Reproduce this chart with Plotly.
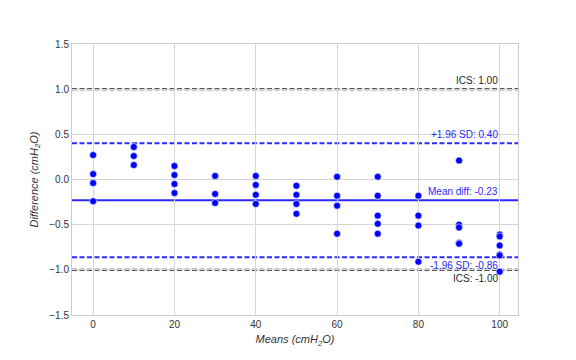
import plotly.graph_objects as go

means = [0, 0, 0, 0,
         10, 10, 10,
         20, 20, 20, 20,
         30, 30, 30,
         40, 40, 40, 40,
         50, 50, 50, 50,
         60, 60, 60, 60,
         70, 70, 70, 70, 70,
         80, 80, 80, 80,
         90, 90, 90, 90, 90,
         100, 100, 100, 100, 100, 100]
diffs = [0.27, 0.06, -0.04, -0.24,
         0.36, 0.26, 0.16,
         0.15, 0.05, -0.05, -0.15,
         0.04, -0.16, -0.26,
         0.04, -0.06, -0.17, -0.27,
         -0.07, -0.17, -0.27, -0.38,
         0.03, -0.18, -0.29, -0.60,
         0.03, -0.18, -0.40, -0.49, -0.60,
         -0.18, -0.40, -0.51, -0.91,
         0.21, -0.50, -0.53, -0.70, -0.71,
         -0.61, -0.63, -0.73, -0.83, -0.84, -1.02]

mean_diff = -0.23
upper_loa = 0.40
lower_loa = -0.86
ics = 1.00

xticks = [0, 20, 40, 60, 80, 100]
yticks = [1.5, 1.0, 0.5, 0.0, -0.5, -1.0, -1.5]

FONT = "Liberation Sans, Arial, sans-serif"

fig = go.Figure()
xr = [-5.2, 104.5]
lines = [
    (ics, "#1f1f1f", "5px,2.5px", "ICS: %.2f" % ics, "bottom", "#262626"),
    (upper_loa, "#2b2bff", "5px,2.5px", "+1.96 SD: %.2f" % upper_loa, "bottom", "#2a2aff"),
    (mean_diff, "#2b2bff", "solid", "Mean diff: %.2f" % mean_diff, "bottom", "#2a2aff"),
    (lower_loa, "#2b2bff", "5px,2.5px", "-1.96 SD: %.2f" % lower_loa, "top", "#2a2aff"),
    (-ics, "#1f1f1f", "5px,2.5px", "ICS: %.2f" % -ics, "top", "#262626"),
]
for y, col, dash, label, ya, tcol in lines:
    fig.add_shape(type="line", xref="x", yref="y", x0=xr[0], x1=xr[1], y0=y, y1=y,
                  line=dict(color=col, width=2, dash=dash), layer="below")
    fig.add_annotation(x=100, y=y, xref="x", yref="y", text=label, showarrow=False,
                       xanchor="right", yanchor=ya, yshift=1 if ya == "bottom" else -1,
                       font=dict(family=FONT, size=10, color=tcol))

fig.add_trace(go.Scatter(
    x=means, y=diffs, mode="markers",
    marker=dict(color="blue", size=7, line=dict(color="white", width=0.6)),
    showlegend=False, cliponaxis=False))

axis_common = dict(showgrid=True, gridcolor="#d6d6d6", gridwidth=1, zeroline=False,
                   showline=True, linecolor="#cccccc", linewidth=1, mirror=True,
                   ticks="", tickfont=dict(family=FONT, size=10, color="#333333"))

fig.update_layout(
    width=576, height=360,
    margin=dict(l=64, r=66, t=36, b=53),
    paper_bgcolor="white", plot_bgcolor="white",
    xaxis=dict(range=xr, tickvals=xticks, **axis_common,
               title=dict(text="<i>Means (cmH<sub>2</sub>O)</i>", standoff=6,
                          font=dict(family=FONT, size=11, color="#333333"))),
    yaxis=dict(range=[-1.5, 1.5], tickvals=yticks, tickformat=".1f", **axis_common,
               title=dict(text="<i>Difference (cmH<sub>2</sub>O)</i>", standoff=8,
                          font=dict(family=FONT, size=11, color="#333333"))),
)

fig.write_html("out.html")
